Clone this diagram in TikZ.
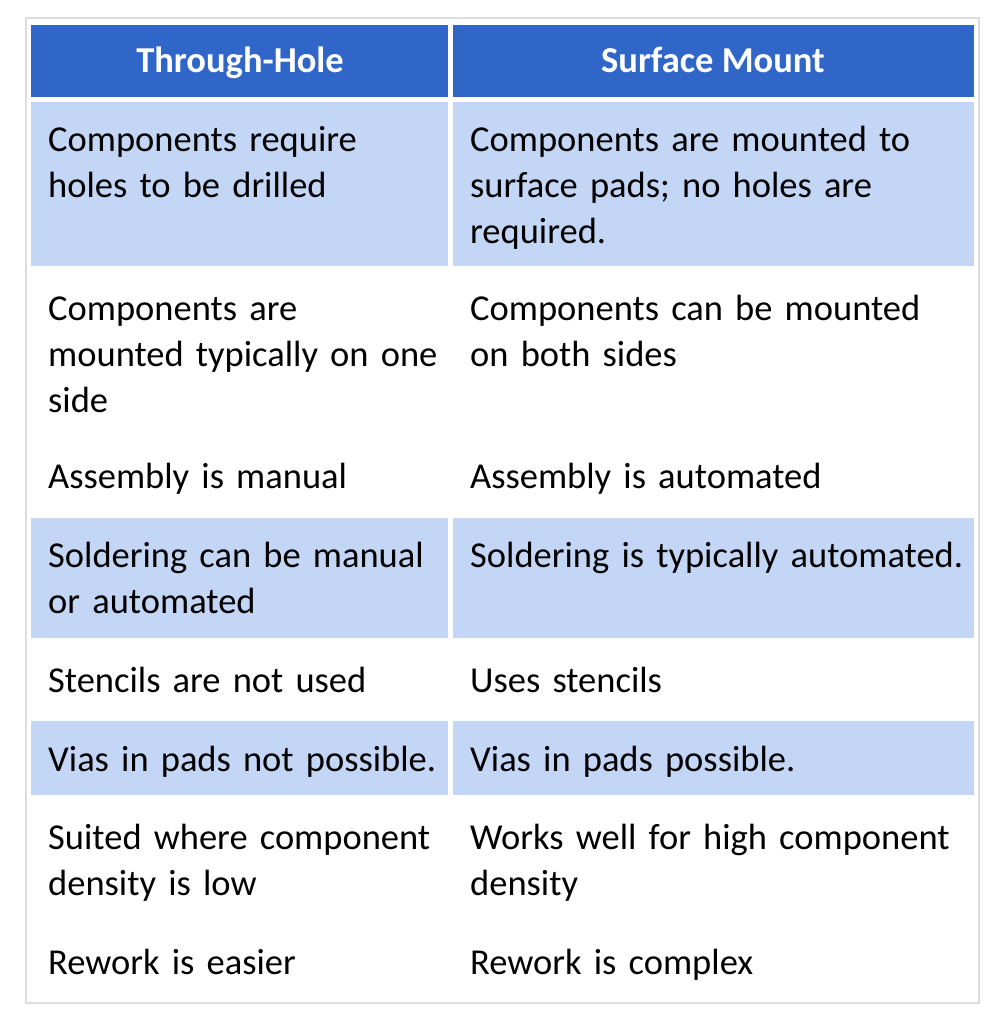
\documentclass[tikz,border=0pt]{standalone}
\usepackage{fontspec}
\setmainfont{Carlito}
\definecolor{hdr}{HTML}{3166C9}
\definecolor{lb}{HTML}{C4D6F5}
\definecolor{bd}{HTML}{DDDDDD}
\begin{document}
\begin{tikzpicture}[x=1pt,y=-1pt,
  cell/.style={anchor=base west,inner sep=0pt,text width=540pt,align=left,font=\fontsize{36.5}{46}\selectfont},
  head/.style={anchor=base,inner sep=0pt,text=white,font=\fontsize{36.5}{40}\selectfont\bfseries}]
\useasboundingbox (0,0) rectangle (1005,1024);
\fill[white] (0,0) rectangle (1005,1024);
\draw[bd,line width=1.5pt] (26,18) rectangle (979,1003);
\fill[hdr] (31,25) rectangle (448,97);
\fill[hdr] (453,25) rectangle (974,97);
\foreach \a/\b in {102/266,518/638,721/795}{
  \fill[lb] (31,\a) rectangle (448,\b);
  \fill[lb] (453,\a) rectangle (974,\b);
}
\node[head] (h1) at (240,73) {Through-Hole};
\node[head] (h2) at (713,73) {Surface Mount};
\node[cell] (a1) at (48,152) {Components require\\holes to be drilled};
\node[cell] (b1) at (470,152) {Components are mounted to\\surface pads; no holes are\\required.};
\node[cell] (a2) at (48,320) {Components are\\mounted typically on one\\side};
\node[cell] (b2) at (470,320) {Components can be mounted\\on both sides};
\node[cell] (a3) at (48,488) {Assembly is manual};
\node[cell] (b3) at (470,488) {Assembly is automated};
\node[cell] (a4) at (48,567) {Soldering can be manual\\or automated};
\node[cell] (b4) at (470,567) {Soldering is typically automated.};
\node[cell] (a5) at (48,692) {Stencils are not used};
\node[cell] (b5) at (470,692) {Uses stencils};
\node[cell] (a6) at (48,771) {Vias in pads not possible.};
\node[cell] (b6) at (470,771) {Vias in pads possible.};
\node[cell] (a7) at (48,849) {Suited where component\\density is low};
\node[cell] (b7) at (470,849) {Works well for high component\\density};
\node[cell] (a8) at (48,974) {Rework is easier};
\node[cell] (b8) at (470,974) {Rework is complex};
\end{tikzpicture}
\end{document}
